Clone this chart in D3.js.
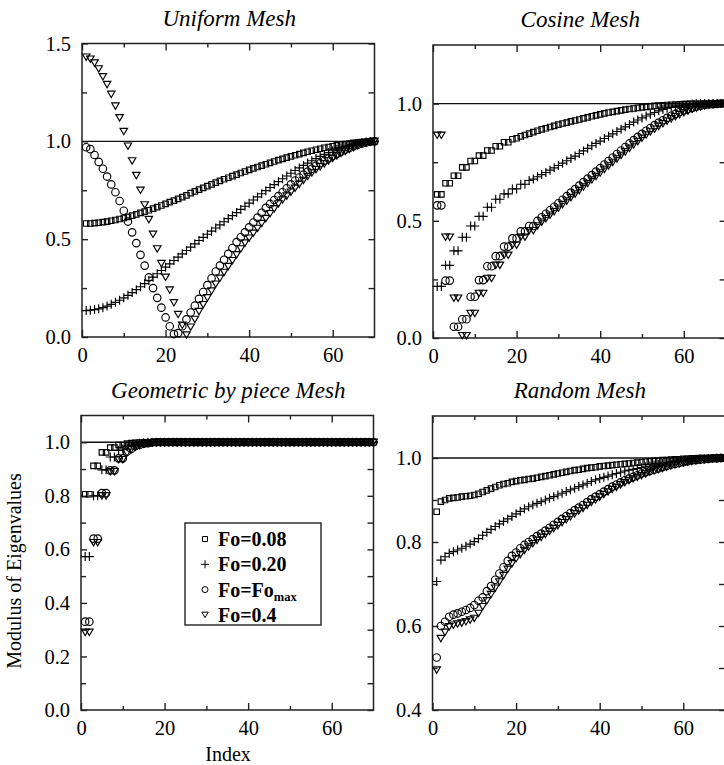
<!DOCTYPE html>
<html>
<head>
<meta charset="utf-8">
<script src="https://cdn.jsdelivr.net/npm/d3@7"></script>
<style>
  html, body { margin: 0; padding: 0; background: #fff; }
  svg { display: block; }
  text { font-family: "Liberation Serif", "Times New Roman", serif; fill: #000; }
</style>
</head>
<body>
<script>
// Modulus of eigenvalues versus mode index, for four mesh types and four Fourier numbers.
const seriesLabels = ["Fo=0.08", "Fo=0.20", "Fo=Fo", "Fo=0.4"];
const xTicks = [0, 20, 40, 60];

const uniformFo008 = [
  0.58,0.58,0.582,0.584,0.587,0.59,0.594,0.598,0.603,0.608,
  0.614,0.62,0.627,0.634,0.641,0.648,0.656,0.664,0.672,0.68,
  0.689,0.697,0.706,0.715,0.724,0.735,0.744,0.753,0.762,0.771,
  0.78,0.789,0.798,0.806,0.814,0.822,0.83,0.838,0.846,0.854,
  0.862,0.869,0.876,0.883,0.89,0.897,0.904,0.91,0.917,0.923,
  0.929,0.935,0.941,0.947,0.952,0.957,0.962,0.967,0.971,0.975,
  0.979,0.983,0.986,0.989,0.992,0.994,0.996,0.998,0.999,1.0];
const uniformFo020 = [
  0.135,0.137,0.14,0.144,0.15,0.158,0.167,0.177,0.188,0.2,
  0.213,0.227,0.242,0.257,0.273,0.289,0.306,0.323,0.34,0.357,
  0.374,0.391,0.408,0.425,0.442,0.459,0.476,0.493,0.509,0.525,
  0.541,0.557,0.573,0.589,0.605,0.62,0.636,0.652,0.668,0.684,
  0.7,0.716,0.732,0.748,0.764,0.779,0.794,0.809,0.823,0.837,
  0.851,0.864,0.877,0.889,0.901,0.912,0.923,0.933,0.943,0.952,
  0.96,0.967,0.974,0.98,0.985,0.99,0.994,0.997,0.999,1.0];
const uniformFoMax = [
  0.97,0.96,0.93,0.895,0.86,0.82,0.78,0.74,0.695,0.645,
  0.59,0.535,0.48,0.42,0.365,0.305,0.25,0.2,0.15,0.1,
  0.055,0.015,0.02,0.055,0.09,0.125,0.16,0.195,0.23,0.265,
  0.3,0.335,0.365,0.395,0.425,0.455,0.485,0.51,0.535,0.56,
  0.585,0.61,0.635,0.66,0.68,0.7,0.72,0.74,0.76,0.78,
  0.8,0.815,0.83,0.845,0.86,0.875,0.888,0.901,0.913,0.925,
  0.936,0.947,0.957,0.966,0.975,0.983,0.989,0.994,0.998,1.0];
const uniformFo04 = [
  1.43,1.42,1.4,1.37,1.33,1.29,1.24,1.18,1.12,1.05,
  0.975,0.9,0.825,0.75,0.675,0.6,0.525,0.45,0.375,0.305,
  0.24,0.175,0.115,0.06,0.01,0.05,0.09,0.13,0.165,0.2,
  0.235,0.27,0.3,0.33,0.36,0.39,0.42,0.45,0.48,0.505,
  0.53,0.555,0.58,0.605,0.63,0.655,0.68,0.7,0.72,0.74,
  0.76,0.78,0.8,0.82,0.838,0.855,0.87,0.885,0.9,0.913,
  0.926,0.938,0.949,0.959,0.968,0.977,0.985,0.991,0.996,1.0];

const cosineFo008 = [
  0.613,0.613,0.66,0.66,0.692,0.692,0.728,0.728,0.755,0.755,
  0.778,0.778,0.8,0.8,0.818,0.818,0.835,0.835,0.848,0.852,
  0.86,0.866,0.872,0.878,0.884,0.89,0.895,0.9,0.905,0.91,
  0.915,0.919,0.924,0.928,0.932,0.937,0.941,0.946,0.95,0.954,
  0.958,0.962,0.965,0.968,0.971,0.974,0.977,0.979,0.982,0.984,
  0.986,0.988,0.99,0.992,0.993,0.994,0.995,0.996,0.997,0.998,
  0.998,0.999,0.999,0.999,1.0,1.0,1.0,1.0,1.0,1.0];
const cosineFo020 = [
  0.22,0.22,0.31,0.31,0.372,0.372,0.43,0.43,0.478,0.478,
  0.519,0.519,0.558,0.558,0.592,0.592,0.615,0.615,0.636,0.636,
  0.656,0.656,0.672,0.678,0.688,0.697,0.706,0.716,0.726,0.736,
  0.746,0.756,0.766,0.776,0.787,0.798,0.809,0.82,0.83,0.84,
  0.851,0.861,0.871,0.881,0.891,0.901,0.911,0.921,0.93,0.939,
  0.947,0.955,0.962,0.969,0.975,0.98,0.984,0.988,0.991,0.994,
  0.996,0.998,0.999,1.0,1.0,1.0,1.0,1.0,1.0,1.0];
const cosineFoMax = [
  0.566,0.566,0.245,0.245,0.048,0.048,0.08,0.08,0.176,0.176,
  0.247,0.247,0.306,0.306,0.349,0.349,0.39,0.39,0.425,0.425,
  0.455,0.455,0.478,0.478,0.5,0.515,0.53,0.545,0.56,0.575,
  0.59,0.605,0.62,0.635,0.65,0.665,0.68,0.695,0.71,0.725,
  0.74,0.755,0.77,0.785,0.8,0.815,0.83,0.844,0.858,0.871,
  0.884,0.896,0.908,0.919,0.929,0.939,0.948,0.956,0.964,0.971,
  0.977,0.982,0.987,0.991,0.994,0.996,0.998,0.999,1.0,1.0];
const cosineFo04 = [
  0.865,0.865,0.43,0.43,0.17,0.17,0.01,0.01,0.105,0.105,
  0.19,0.19,0.254,0.254,0.31,0.31,0.353,0.353,0.396,0.396,
  0.43,0.43,0.458,0.458,0.478,0.494,0.509,0.524,0.539,0.554,
  0.569,0.584,0.599,0.614,0.629,0.644,0.659,0.674,0.689,0.704,
  0.719,0.734,0.749,0.764,0.779,0.794,0.809,0.824,0.838,0.852,
  0.866,0.879,0.891,0.903,0.914,0.925,0.935,0.944,0.953,0.961,
  0.968,0.975,0.981,0.986,0.99,0.994,0.997,0.999,1.0,1.0];

const geometricFo008 = [
  0.806,0.806,0.912,0.912,0.962,0.962,0.98,0.98,0.99,0.99,
  0.995,0.997,0.998,0.999,1.0,1.0,1.0,1.0,1.0,1.0,
  1.0,1.0,1.0,1.0,1.0,1.0,1.0,1.0,1.0,1.0,
  1.0,1.0,1.0,1.0,1.0,1.0,1.0,1.0,1.0,1.0,
  1.0,1.0,1.0,1.0,1.0,1.0,1.0,1.0,1.0,1.0,
  1.0,1.0,1.0,1.0,1.0,1.0,1.0,1.0,1.0,1.0,
  1.0,1.0,1.0,1.0,1.0,1.0,1.0,1.0,1.0,1.0];
const geometricFo020 = [
  0.573,0.573,0.8,0.8,0.897,0.897,0.945,0.945,0.97,0.975,
  0.985,0.99,0.993,0.996,0.998,1.0,1.0,1.0,1.0,1.0,
  1.0,1.0,1.0,1.0,1.0,1.0,1.0,1.0,1.0,1.0,
  1.0,1.0,1.0,1.0,1.0,1.0,1.0,1.0,1.0,1.0,
  1.0,1.0,1.0,1.0,1.0,1.0,1.0,1.0,1.0,1.0,
  1.0,1.0,1.0,1.0,1.0,1.0,1.0,1.0,1.0,1.0,
  1.0,1.0,1.0,1.0,1.0,1.0,1.0,1.0,1.0,1.0];
const geometricFoMax = [
  0.33,0.33,0.64,0.64,0.81,0.81,0.895,0.895,0.94,0.94,
  0.965,0.975,0.985,0.99,0.995,0.997,0.999,1.0,1.0,1.0,
  1.0,1.0,1.0,1.0,1.0,1.0,1.0,1.0,1.0,1.0,
  1.0,1.0,1.0,1.0,1.0,1.0,1.0,1.0,1.0,1.0,
  1.0,1.0,1.0,1.0,1.0,1.0,1.0,1.0,1.0,1.0,
  1.0,1.0,1.0,1.0,1.0,1.0,1.0,1.0,1.0,1.0,
  1.0,1.0,1.0,1.0,1.0,1.0,1.0,1.0,1.0,1.0];
const geometricFo04 = [
  0.29,0.29,0.625,0.625,0.8,0.8,0.89,0.89,0.935,0.935,
  0.96,0.972,0.982,0.988,0.993,0.996,0.998,1.0,1.0,1.0,
  1.0,1.0,1.0,1.0,1.0,1.0,1.0,1.0,1.0,1.0,
  1.0,1.0,1.0,1.0,1.0,1.0,1.0,1.0,1.0,1.0,
  1.0,1.0,1.0,1.0,1.0,1.0,1.0,1.0,1.0,1.0,
  1.0,1.0,1.0,1.0,1.0,1.0,1.0,1.0,1.0,1.0,
  1.0,1.0,1.0,1.0,1.0,1.0,1.0,1.0,1.0,1.0];

const randomFo008 = [
  0.872,0.896,0.9,0.904,0.905,0.906,0.908,0.909,0.91,0.912,
  0.915,0.919,0.923,0.927,0.931,0.935,0.938,0.94,0.943,0.945,
  0.947,0.948,0.95,0.951,0.953,0.955,0.957,0.959,0.961,0.963,
  0.965,0.967,0.969,0.971,0.972,0.974,0.976,0.977,0.978,0.98,
  0.981,0.982,0.983,0.984,0.985,0.986,0.987,0.988,0.989,0.99,
  0.991,0.992,0.993,0.994,0.995,0.995,0.996,0.997,0.997,0.998,
  0.998,0.999,0.999,1.0,1.0,1.0,1.0,1.0,1.0,1.0];
const randomFo020 = [
  0.706,0.757,0.765,0.773,0.777,0.781,0.785,0.79,0.795,0.801,
  0.808,0.816,0.823,0.83,0.837,0.843,0.849,0.855,0.861,0.867,
  0.873,0.879,0.884,0.888,0.892,0.896,0.9,0.904,0.908,0.912,
  0.916,0.92,0.924,0.928,0.932,0.936,0.94,0.944,0.948,0.951,
  0.954,0.957,0.96,0.963,0.966,0.969,0.971,0.973,0.975,0.977,
  0.979,0.981,0.983,0.985,0.987,0.989,0.99,0.992,0.993,0.994,
  0.995,0.996,0.997,0.998,0.998,0.999,0.999,1.0,1.0,1.0];
const randomFoMax = [
  0.525,0.6,0.61,0.622,0.627,0.63,0.634,0.638,0.643,0.65,
  0.66,0.668,0.683,0.695,0.71,0.725,0.74,0.755,0.767,0.775,
  0.785,0.793,0.8,0.807,0.814,0.82,0.827,0.834,0.841,0.848,
  0.855,0.862,0.869,0.876,0.882,0.888,0.895,0.902,0.908,0.914,
  0.92,0.926,0.932,0.937,0.942,0.947,0.951,0.955,0.959,0.963,
  0.966,0.969,0.972,0.975,0.978,0.981,0.984,0.986,0.988,0.99,
  0.992,0.994,0.995,0.996,0.997,0.998,0.999,0.999,1.0,1.0];
const randomFo04 = [
  0.495,0.57,0.585,0.598,0.602,0.605,0.607,0.61,0.614,0.618,
  0.63,0.646,0.66,0.675,0.69,0.705,0.72,0.735,0.748,0.76,
  0.77,0.78,0.788,0.796,0.804,0.811,0.818,0.825,0.832,0.839,
  0.846,0.853,0.86,0.867,0.874,0.88,0.887,0.894,0.9,0.907,
  0.913,0.919,0.925,0.93,0.936,0.941,0.946,0.95,0.954,0.958,
  0.962,0.966,0.969,0.972,0.975,0.978,0.981,0.984,0.986,0.988,
  0.99,0.992,0.994,0.995,0.996,0.997,0.998,0.999,1.0,1.0];

// Panel layout (pixel boxes) and y axes
const panels = [
  { title: "Uniform Mesh", box: [82, 43.5, 292.5, 293.5], yDomain: [0, 1.5],
    yMajor: [0, 0.5, 1.0, 1.5], yMinor: [0.25, 0.75, 1.25], fmt: ".1f",
    data: [uniformFo008, uniformFo020, uniformFoMax, uniformFo04] },
  { title: "Cosine Mesh", box: [433, 45, 292.6, 293], yDomain: [0, 1.25],
    yMajor: [0, 0.5, 1.0], yMinor: [0.25, 0.75], fmt: ".1f",
    data: [cosineFo008, cosineFo020, cosineFoMax, cosineFo04] },
  { title: "Geometric by piece Mesh", box: [81, 415.5, 292.5, 294.5], yDomain: [0, 1.1],
    yMajor: [0, 0.2, 0.4, 0.6, 0.8, 1.0], yMinor: [0.1, 0.3, 0.5, 0.7, 0.9], fmt: ".1f",
    data: [geometricFo008, geometricFo020, geometricFoMax, geometricFo04], legend: true },
  { title: "Random Mesh", box: [432.5, 416, 292.6, 294], yDomain: [0.4, 1.1],
    yMajor: [0.4, 0.6, 0.8, 1.0], yMinor: [0.5, 0.7, 0.9], fmt: ".1f",
    data: [randomFo008, randomFo020, randomFoMax, randomFo04] }
];

const W = 724, H = 765;
const svg = d3.select("body").append("svg").attr("width", W).attr("height", H);

// Marker path builders: square, plus, circle, downward triangle
function markerPath(kind, s) {
  const p = d3.path();
  if (kind === 0) { p.rect(-s / 2, -s / 2, s, s); }
  else if (kind === 1) { p.moveTo(-s / 2, 0); p.lineTo(s / 2, 0); p.moveTo(0, -s / 2); p.lineTo(0, s / 2); }
  else if (kind === 2) { p.moveTo(s / 2, 0); p.arc(0, 0, s / 2, 0, 2 * Math.PI); }
  else { const h = s * 0.85; p.moveTo(-s / 2, -h / 2); p.lineTo(s / 2, -h / 2); p.lineTo(0, h / 2); p.closePath(); }
  return p.toString();
}
const markerSize = [5.5, 9, 7.5, 7.5];

panels.forEach(pn => {
  const [L, T, w, h] = pn.box;
  const x = d3.scaleLinear().domain([0, 70]).range([L, L + w]);
  const y = d3.scaleLinear().domain(pn.yDomain).range([T + h, T]);
  const g = svg.append("g");

  // Reference line at modulus 1
  g.append("line").attr("x1", L).attr("x2", L + w)
    .attr("y1", y(1)).attr("y2", y(1))
    .attr("stroke", "#111").attr("stroke-width", 1.3);

  // Axes with inward ticks on all four sides
  const axStyle = sel => {
    sel.select(".domain").remove();
    sel.selectAll("line").attr("stroke", "#222").attr("stroke-width", 1.4);
    sel.selectAll("text").style("font-size", "20.5px")
      .style("font-family", "'Liberation Serif','Times New Roman',serif").attr("fill", "#000");
  };
  g.append("g").attr("transform", `translate(0,${T + h})`)
    .call(d3.axisBottom(x).tickValues(xTicks).tickSize(-7).tickPadding(10).tickFormat(d3.format("d"))).call(axStyle);
  g.append("g").attr("transform", `translate(0,${T + h})`)
    .call(d3.axisBottom(x).tickValues([10, 30, 50]).tickSize(-4).tickFormat("")).call(axStyle);
  g.append("g").attr("transform", `translate(0,${T})`)
    .call(d3.axisTop(x).tickValues(xTicks).tickSize(-7).tickFormat("")).call(axStyle);
  g.append("g").attr("transform", `translate(0,${T})`)
    .call(d3.axisTop(x).tickValues([10, 30, 50]).tickSize(-4).tickFormat("")).call(axStyle);
  g.append("g").attr("transform", `translate(${L},0)`)
    .call(d3.axisLeft(y).tickValues(pn.yMajor).tickSize(-6).tickPadding(11).tickFormat(d3.format(pn.fmt))).call(axStyle);
  g.append("g").attr("transform", `translate(${L},0)`)
    .call(d3.axisLeft(y).tickValues(pn.yMinor).tickSize(-5).tickFormat("")).call(axStyle);
  g.append("g").attr("transform", `translate(${L + w},0)`)
    .call(d3.axisRight(y).tickValues(pn.yMajor.concat(pn.yMinor)).tickSize(-6).tickFormat("")).call(axStyle);

  // Frame
  g.append("rect").attr("x", L).attr("y", T).attr("width", w).attr("height", h)
    .attr("fill", "none").attr("stroke", "#222").attr("stroke-width", 1.5);

  // Title
  g.append("text").attr("x", L + w / 2 + 1).attr("y", T - 18)
    .attr("text-anchor", "middle").style("font-size", "23px").style("font-style", "italic")
    .text(pn.title);

  // Markers
  pn.data.forEach((vals, k) => {
    g.append("g").selectAll("path").data(vals).join("path")
      .attr("d", markerPath(k, markerSize[k]))
      .attr("transform", (v, i) => `translate(${x(i + 1)},${y(v)})`)
      .attr("fill", "none").attr("stroke", "#000").attr("stroke-width", 1.15);
  });

  if (pn.legend) {
    const lx = 185, ly = 523, lw = 136, lh = 102;
    const lg = g.append("g");
    lg.append("rect").attr("x", lx).attr("y", ly).attr("width", lw).attr("height", lh)
      .attr("fill", "#fff").attr("stroke", "#222").attr("stroke-width", 1.4);
    const legendSize = [5, 8, 6, 6.5];
    seriesLabels.forEach((lab, k) => {
      const cy = ly + 16 + k * 25.3;
      lg.append("path").attr("d", markerPath(k, legendSize[k]))
        .attr("transform", `translate(${lx + 20},${cy})`)
        .attr("fill", "none").attr("stroke", "#000").attr("stroke-width", 1);
      const t = lg.append("text").attr("x", lx + 33).attr("y", cy + 7)
        .style("font-size", "20px").style("font-weight", "bold").text(lab);
      if (k === 2) {
        t.append("tspan").attr("dy", 4).style("font-size", "12.5px").text("max");
      }
    });
  }
});

// Shared axis titles
svg.append("text").attr("transform", "translate(21,571) rotate(-90)")
  .attr("text-anchor", "middle").style("font-size", "20px").text("Modulus of Eigenvalues");
svg.append("text").attr("x", 228).attr("y", 761)
  .attr("text-anchor", "middle").style("font-size", "20px").text("Index");
</script>
</body>
</html>
